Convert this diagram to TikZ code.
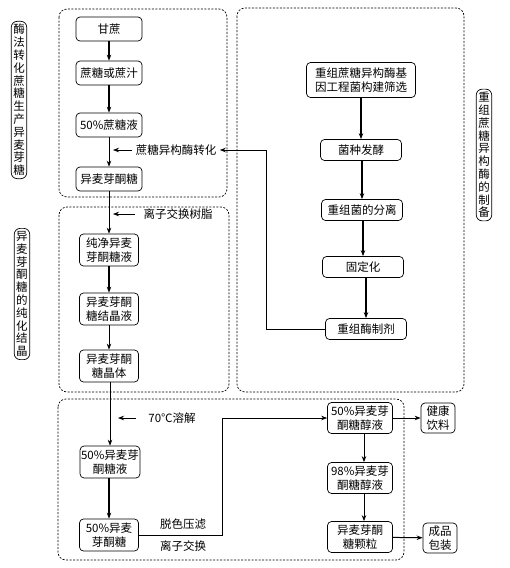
\documentclass[tikz,border=0pt]{standalone}
\usepackage{fontspec}
\newfontfamily\cjk{Noto Sans CJK SC}
\usetikzlibrary{arrows.meta}

\begin{document}
\begin{tikzpicture}[x=1pt,y=-1pt,
    every node/.style={font=\cjk\fontsize{11.5}{14}\selectfont},
    stepbox/.style={draw,rounded corners=4pt,line width=0.7pt,align=center,inner sep=1pt,minimum height=24pt},
    sidebox/.style={draw,rounded corners=6pt,line width=0.7pt,align=center,inner xsep=2pt,inner ysep=3pt,font=\cjk\fontsize{11.5}{12.8}\selectfont},
    groupbox/.style={dash pattern=on 2pt off 1.5pt,line width=0.7pt,rounded corners=8pt},
    flow/.style={-{Stealth[length=6pt,width=4.5pt]},line width=1.3pt},
    thinflow/.style={-{Stealth[length=6pt,width=4.5pt]},line width=0.7pt},
]
\useasboundingbox (0,0) rectangle (510,568);
% dashed groups
\draw[groupbox] (59,9) rectangle (227,197);
\draw[groupbox] (237,8) rectangle (464,392);
\draw[groupbox] (59,207) rectangle (229,392);
\draw[groupbox] (58,399) rectangle (404,560);
% side titles
\node[sidebox] (sideA) at (19,100) {酶\\法\\转\\化\\蔗\\糖\\生\\产\\异\\麦\\芽\\糖};
\node[sidebox] (sideC) at (22,294) {异\\麦\\芽\\酮\\糖\\的\\纯\\化\\结\\晶};
\node[sidebox] (sideB) at (484,155) {重\\组\\蔗\\糖\\异\\构\\酶\\的\\制\\备};
% enzymatic conversion
\node[stepbox,minimum width=66pt] (cane) at (109,29) {甘蔗};
\node[stepbox,minimum width=66pt] (juice) at (109,73) {蔗糖或蔗汁};
\node[stepbox,minimum width=66pt] (suc50) at (109,125) {50\%蔗糖液};
\node[stepbox,minimum width=66pt] (iso) at (109,179) {异麦芽酮糖};
\node (conv) at (176,150) {蔗糖异构酶转化};
\draw[flow] (cane) -- (juice);
\draw[flow] (juice) -- (suc50);
\draw[thinflow] (suc50) -- (iso);
\draw[thinflow,shorten >=4pt] (conv.west) -- (conv.west -| iso.north);
% enzyme preparation
\node[stepbox,minimum width=109pt,minimum height=35pt] (gene) at (361,80) {重组蔗糖异构酶基\\因工程菌构建筛选};
\node[stepbox,minimum width=81pt,minimum height=21pt] (ferm) at (361,150) {菌种发酵};
\node[stepbox,minimum width=81pt,minimum height=21pt] (sep) at (362,210) {重组菌的分离};
\node[stepbox,minimum width=81pt,minimum height=21pt] (immo) at (363,267) {固定化};
\node[stepbox,minimum width=81pt,minimum height=21pt] (enz) at (366,329) {重组酶制剂};
\draw[flow] (gene) -- (ferm);
\draw[flow] (ferm.south -| sep) -- (sep);
\draw[flow] (sep.south -| immo) -- (immo);
\draw[flow] (immo.south -| enz) -- (enz);
\coordinate (fbk) at (266,329);
\draw[flow,line width=1pt] (enz.west) -- (fbk) |- (conv.east);
% purification
\node[stepbox,minimum width=59pt,minimum height=32pt] (pure) at (109,250) {纯净异麦\\芽酮糖液};
\node[stepbox,minimum width=59pt,minimum height=32pt] (cryst) at (109,309) {异麦芽酮\\糖结晶液};
\node[stepbox,minimum width=59pt,minimum height=32pt] (crystal) at (109,366) {异麦芽酮\\糖晶体};
\node (resin) at (178,214) {离子交换树脂};
\draw[thinflow] (iso) -- (pure);
\draw[flow] (pure) -- (cryst);
\draw[thinflow,line width=1pt] (cryst) -- (crystal);
\draw[thinflow,shorten <=5pt,shorten >=4pt] (resin.west) -- (resin.west -| iso.south);
% isomalt
\node[stepbox,minimum width=59pt,minimum height=32pt] (s50a) at (110,462) {50\%异麦芽\\酮糖液};
\node[stepbox,minimum width=59pt,minimum height=32pt] (s50b) at (109,535) {50\%异麦\\芽酮糖};
\node (melt) at (172,418) {70℃溶解};
\node (decol) at (183,524) {脱色压滤};
\node (ionex) at (183,546) {离子交换};
\node[stepbox,minimum width=65pt,minimum height=31pt] (alc50) at (360,418) {50\%异麦芽\\酮糖醇液};
\node[stepbox,minimum width=65pt,minimum height=31pt] (alc98) at (360,478) {98\%异麦芽\\酮糖醇液};
\node[stepbox,minimum width=65pt,minimum height=31pt] (gran) at (360,537) {异麦芽酮\\糖颗粒};
\node[stepbox,minimum width=34pt,minimum height=30pt] (drink) at (438,418) {健康\\饮料};
\node[stepbox,minimum width=34pt,minimum height=30pt] (pack) at (440,538) {成品\\包装};
\draw[thinflow] (crystal.south -| s50a) -- (s50a);
\draw[thinflow,shorten <=9pt,shorten >=8pt] (melt.west) -- (melt.west -| s50a.north);
\draw[flow] (s50a.south -| s50b) -- (s50b);
\coordinate (turn) at (222,418);
\draw[thinflow] (s50b.east) -| (turn) -- (alc50.west);
\draw[flow,line width=1pt] (alc50.south -| 364,0) -- (alc98.north -| 364,0);
\draw[flow,line width=1pt] (alc98.south -| 364,0) -- (gran.north -| 364,0);
\draw[flow,line width=1pt] (alc50) -- (drink);
\draw[flow,line width=1pt] (gran) -- (pack);
\end{tikzpicture}
\end{document}
